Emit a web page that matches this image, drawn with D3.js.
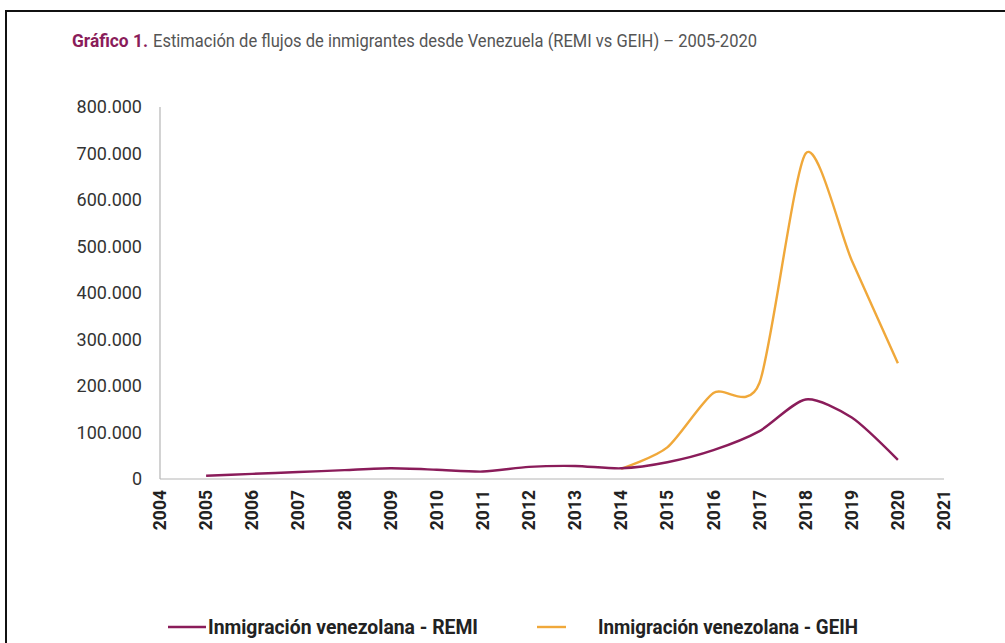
<!DOCTYPE html>
<html lang="es">
<head>
<meta charset="UTF-8">
<title>Gráfico 1</title>
<script src="https://cdnjs.cloudflare.com/ajax/libs/d3/7.8.5/d3.min.js"></script>
<style>
  body { margin: 0; background: #fff; }
  svg { display: block; }
  .cond { font-family: "Roboto", "Liberation Sans", sans-serif; }
</style>
</head>
<body>
<div id="chart"></div>
<script>
// years on the axis and data series
const axisYears = d3.range(2004, 2022);
const remiYears = [2005, 2006, 2007, 2008, 2009, 2010, 2011, 2012, 2013, 2014, 2015, 2016, 2017, 2018, 2019, 2020];
const remiValues = [7000, 11000, 15000, 19000, 23000, 20000, 16000, 26000, 28000, 23000, 36000, 62000, 103000, 171000, 132000, 41000];
const geihYears = [2014, 2015, 2016, 2017, 2018, 2019, 2020];
const geihValues = [22000, 68000, 185000, 207000, 700000, 470000, 249000];
const yTicks = [0, 100000, 200000, 300000, 400000, 500000, 600000, 700000, 800000];

const W = 1005, H = 643;
const svg = d3.select('#chart').append('svg').attr('width', W).attr('height', H);

// frame
svg.append('path')
  .attr('d', `M6,${H} L6,11 L${W},11`)
  .attr('fill', 'none').attr('stroke', '#111').attr('stroke-width', 2);

// title
const title = svg.append('text').attr('class', 'cond')
  .attr('x', 72).attr('y', 47).style('font-size', '19px');
title.append('tspan').attr('fill', '#8a1c5a').attr('font-weight', 'bold')
  .attr('textLength', 76).attr('lengthAdjust', 'spacingAndGlyphs')
  .text('Gráfico 1.');
title.append('tspan').attr('fill', '#555').attr('x', 153)
  .attr('textLength', 604).attr('lengthAdjust', 'spacingAndGlyphs')
  .text('Estimación de flujos de inmigrantes desde Venezuela (REMI vs GEIH) – 2005-2020');

const x = d3.scalePoint().domain(axisYears).range([160, 944]);
const y = d3.scaleLinear().domain([0, 800000]).range([479, 107]);
const es = d3.formatLocale({ decimal: ',', thousands: '.', grouping: [3], currency: ['$', ''] });
const fmt = es.format(',');

// axes
svg.append('line').attr('x1', 160).attr('x2', 160).attr('y1', 107).attr('y2', 479)
  .attr('stroke', '#b5b5b5').attr('stroke-width', 1.2);
svg.append('line').attr('x1', 160).attr('x2', 944).attr('y1', 479).attr('y2', 479)
  .attr('stroke', '#b5b5b5').attr('stroke-width', 1.2);

svg.append('g').selectAll('text').data(yTicks).join('text')
  .attr('class', 'cond')
  .attr('x', 142).attr('y', d => y(d)).attr('dy', '0.35em')
  .attr('text-anchor', 'end').attr('fill', '#333')
  .style('font-size', '18px')
  .text(d => fmt(d));

svg.append('g').selectAll('text').data(axisYears).join('text')
  .attr('class', 'cond')
  .attr('transform', d => `translate(${x(d)},490) rotate(-90)`)
  .attr('dy', '0.35em').attr('text-anchor', 'end')
  .attr('fill', '#222').attr('font-weight', 'bold')
  .style('font-size', '17.5px')
  .text(d => d);

// lines
const line = d3.line()
  .x(d => x(d[0])).y(d => y(d[1]))
  .curve(d3.curveCardinal.tension(0.25));

const series = [
  { name: 'Inmigración venezolana - REMI', color: '#8a1c5a', pts: d3.zip(remiYears, remiValues) },
  { name: 'Inmigración venezolana - GEIH', color: '#f0a83a', pts: d3.zip(geihYears, geihValues) }
];

svg.append('path').datum(series[1].pts).attr('d', line)
  .attr('fill', 'none').attr('stroke', series[1].color).attr('stroke-width', 2.4);
svg.append('path').datum(series[0].pts).attr('d', line)
  .attr('fill', 'none').attr('stroke', series[0].color).attr('stroke-width', 2.4);

// legend
const legendPos = [{ x1: 168, x2: 206, tx: 208, w: 270 }, { x1: 537, x2: 566, tx: 598, w: 260 }];
series.forEach((s, i) => {
  const p = legendPos[i];
  svg.append('line').attr('x1', p.x1).attr('x2', p.x2).attr('y1', 627).attr('y2', 627)
    .attr('stroke', s.color).attr('stroke-width', 2.4);
  svg.append('text').attr('class', 'cond')
    .attr('x', p.tx).attr('y', 627).attr('dy', '0.35em')
    .attr('fill', '#222').attr('font-weight', 'bold')
    .attr('textLength', p.w).attr('lengthAdjust', 'spacingAndGlyphs')
    .style('font-size', '21px')
    .text(s.name);
});
</script>
</body>
</html>
